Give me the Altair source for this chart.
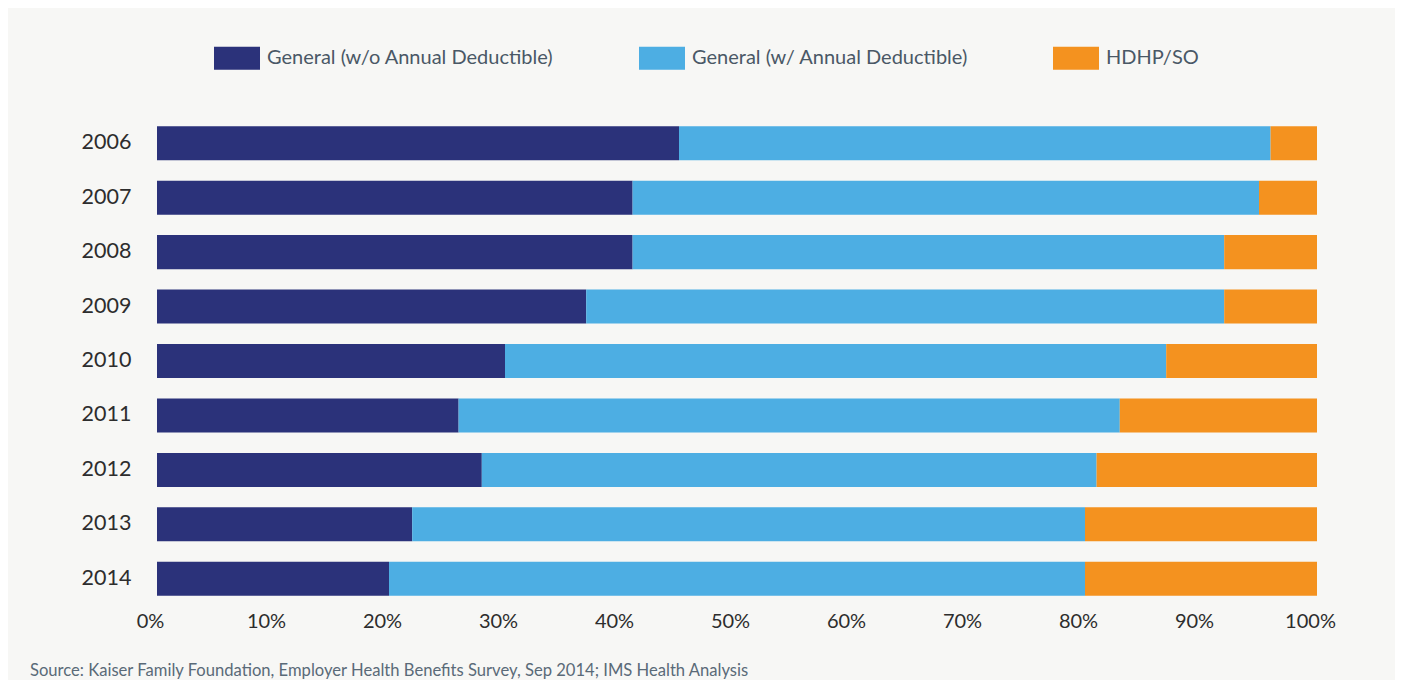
import altair as alt
import pandas as pd

years = ["2006", "2007", "2008", "2009", "2010", "2011", "2012", "2013", "2014"]
series = ["General (w/o Annual Deductible)", "General (w/ Annual Deductible)", "HDHP/SO"]
general_no_ded = [45, 41, 41, 37, 30, 26, 28, 22, 20]
general_ded = [51, 54, 51, 55, 57, 57, 53, 58, 60]
hdhp_so = [4, 5, 8, 8, 13, 17, 19, 20, 20]
colors = ["#2b327a", "#4daee3", "#f4921f"]
x_ticks = [0, 10, 20, 30, 40, 50, 60, 70, 80, 90, 100]
source = "Source: Kaiser Family Foundation, Employer Health Benefits Survey, Sep 2014; IMS Health Analysis"

rows = []
for i, y in enumerate(years):
    for k, vals in enumerate([general_no_ded, general_ded, hdhp_so]):
        rows.append({"year": y, "series": series[k], "value": vals[i], "order": k})
df = pd.DataFrame(rows)

FONT = "Lato"
BG = "#f7f7f5"

chart = alt.Chart(df).mark_bar().encode(
    y=alt.Y("year:N", sort=years,
            scale=alt.Scale(paddingInner=0.375, paddingOuter=0.1875),
            axis=alt.Axis(title=None, domain=False, ticks=False, labelPadding=26,
                          labelFontSize=21.5, labelColor="#2d2d2d", labelFont=FONT)),
    x=alt.X("value:Q", stack="zero",
            scale=alt.Scale(domain=[0, 100], nice=False),
            axis=alt.Axis(title=None, domain=False, ticks=False, grid=False,
                          values=x_ticks, labelExpr="datum.value + '%'",
                          labelFontSize=20, labelColor="#2d2d2d", labelFont=FONT,
                          labelPadding=5, labelOffset=-7, labelFlush=False)),
    color=alt.Color("series:N", sort=series,
                    scale=alt.Scale(domain=series, range=colors),
                    legend=alt.Legend(title=None, orient="none", direction="horizontal",
                                      legendX=57, legendY=-81,
                                      symbolType="M-1,-0.5H1V0.5H-1Z", symbolSize=2116,
                                      symbolStrokeWidth=0, symbolOpacity=1,
                                      labelFontSize=20, labelColor="#4a5866", labelFont=FONT,
                                      labelLimit=0,
                                      labelOffset=7, columnPadding=85, padding=0)),
    order=alt.Order("order:Q"),
).properties(
    width=1160,
    height=490,
    autosize=alt.AutoSizeParams(type="none"),
    padding={"left": 149, "top": 108, "right": 78, "bottom": 74},
    title=alt.TitleParams(text=source, orient="bottom", anchor="start", frame="group",
                          dx=-127, offset=32, fontSize=16.6, font=FONT,
                          fontWeight="normal", color="#5a6a78"),
).configure(background=BG).configure_view(stroke=None, fill=BG)

chart.save("out.html", embed_options={"renderer": "svg", "actions": False})
